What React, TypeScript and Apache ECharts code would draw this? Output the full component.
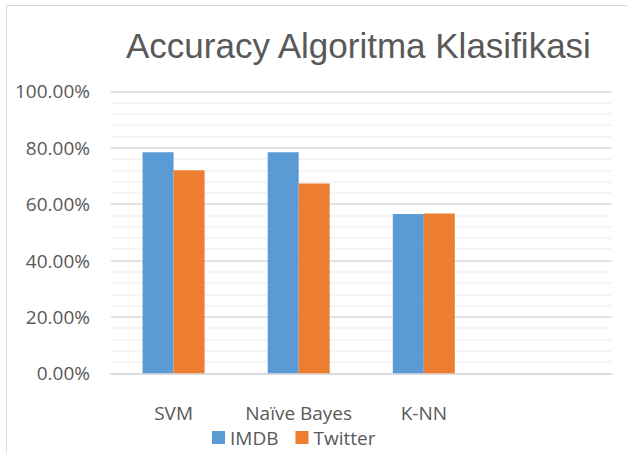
import React, { useEffect, useRef } from "react";
import * as echarts from "echarts";

const categories = ["SVM", "Naïve Bayes", "K-NN", ""];
const imdbValues = [78.4, 78.4, 56.5, null];
const twitterValues = [72.0, 67.3, 56.7, null];
const seriesNames = ["IMDB", "Twitter"];
const titleText = "Accuracy Algoritma Klasifikasi";

export default function App() {
  const ref = useRef<HTMLDivElement>(null);
  useEffect(() => {
    if (!ref.current) return;
    const chart = echarts.init(ref.current, null, { renderer: "svg" });
    chart.setOption({
      animation: false,
      backgroundColor: "#ffffff",
      title: {
        text: titleText,
        left: 126,
        top: 27.5,
        padding: 0,
        textStyle: {
          fontFamily: "'Liberation Sans', Arial, sans-serif",
          fontSize: 35,
          fontWeight: "normal",
          color: "#595959",
        },
      },
      graphic: [
        {
          type: "rect",
          shape: { x: 6.5, y: 5.5, width: 800, height: 600 },
          style: { fill: "none", stroke: "#d9d9d9", lineWidth: 1 },
          silent: true,
          z: -1,
        },
      ],
      legend: {
        data: seriesNames,
        left: 212,
        top: 428,
        padding: 0,
        itemWidth: 13,
        itemHeight: 13,
        itemGap: 17,
        icon: "rect",
        textStyle: {
          fontFamily: "'Open Sans', sans-serif",
          fontSize: 19,
          lineHeight: 13,
          color: "#595959",
          padding: [0, 0, 0, 0],
        },
      },
      grid: { left: 111, right: 15.5, top: 91.3, bottom: 79.7, containLabel: false },
      xAxis: {
        type: "category",
        data: categories,
        axisTick: { show: false },
        axisLine: { lineStyle: { color: "#d9d9d9", width: 1.5 } },
        axisLabel: {
          interval: 0,
          fontFamily: "'Open Sans', sans-serif",
          fontSize: 19,
          lineHeight: 14,
          color: "#595959",
          margin: 33,
        },
      },
      yAxis: {
        type: "value",
        min: 0,
        max: 100,
        interval: 20,
        axisLine: { show: false },
        axisTick: { show: false },
        axisLabel: {
          fontFamily: "'Open Sans', sans-serif",
          fontSize: 19,
          color: "#595959",
          margin: 21,
          formatter: (v: number) => v.toFixed(2) + "%",
        },
        splitLine: { lineStyle: { color: "#d9d9d9", width: 1.5 } },
        minorTick: { show: false, splitNumber: 5 },
        minorSplitLine: { show: true, lineStyle: { color: "#f2f2f2", width: 1.5 } },
      },
      series: [
        {
          name: seriesNames[0],
          type: "bar",
          data: imdbValues,
          barWidth: 31,
          barGap: "0%",
          itemStyle: { color: "#5b9bd5" },
        },
        {
          name: seriesNames[1],
          type: "bar",
          data: twitterValues,
          barWidth: 31,
          barGap: "0%",
          itemStyle: { color: "#ed7d31" },
        },
      ],
    });
    return () => chart.dispose();
  }, []);
  return (
    <div
      ref={ref}
      style={{ position: "fixed", left: 0, top: 0, width: 627, height: 453 }}
    />
  );
}
